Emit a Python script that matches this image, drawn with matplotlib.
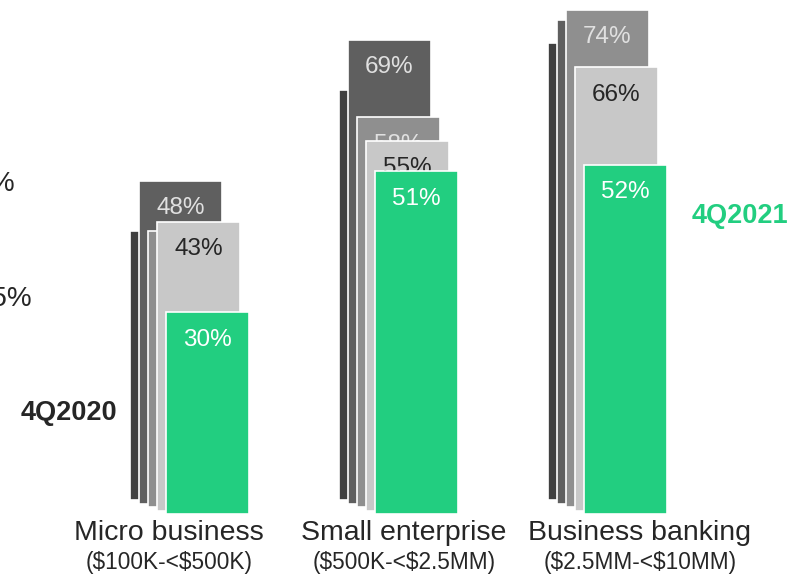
import matplotlib
matplotlib.use("Agg")
import matplotlib.pyplot as plt

# ---- data -------------------------------------------------------------
QUARTERS = ["4Q2020", "1Q2021", "2Q2021", "3Q2021", "4Q2021"]
SEGMENTS = ["Micro business", "Small enterprise", "Business banking"]
RANGES = ["($100K-<$500K)", "($500K-<$2.5MM)", "($2.5MM-<$10MM)"]

# one list per quarter, in SEGMENTS order (percent)
Q4_2020 = [40, 61, 68]
Q1_2021 = [48, 69, 72]
Q2_2021 = [41, 58, 74]
Q3_2021 = [43, 55, 66]
Q4_2021 = [30, 51, 52]
VALUES = [Q4_2020, Q1_2021, Q2_2021, Q3_2021, Q4_2021]

# ---- style ------------------------------------------------------------
plt.rcParams["font.family"] = ["Liberation Sans", "DejaVu Sans"]
BAR_COLORS = ["#404040", "#5f5f5f", "#8f8f8f", "#c8c8c8", "#22ce80"]
TEXT_COLORS = ["#e0e0e0", "#e0e0e0", "#e0e0e0", "#262626", "#ffffff"]
GREEN = "#22ce80"

W, H = 809, 578
PX_GROUP = 209.0          # pixels between groups
PX_PER_PCT = 6.72
BASE_PX = 64              # baseline of front bar, from bottom
DX = 9 / PX_GROUP         # horizontal shift between layers
DY = 3.5 / PX_PER_PCT     # vertical shift between layers
WIDTH = 83 / PX_GROUP

fig = plt.figure(figsize=(W / 100, H / 100), dpi=100)
ax = fig.add_axes([0, 0, 1, 1])
ax.set_xlim(-207.5 / PX_GROUP, (W - 207.5) / PX_GROUP)
ax.set_ylim(-BASE_PX / PX_PER_PCT, (H - BASE_PX) / PX_PER_PCT)
ax.axis("off")

n = len(QUARTERS)
tops = [[(n - 1 - k) * DY + v for v in vals] for k, vals in enumerate(VALUES)]
for k, vals in enumerate(VALUES):
    back = n - 1 - k
    xs = [i - back * DX for i in range(len(SEGMENTS))]
    bottom = back * DY
    ax.bar(xs, vals, width=WIDTH, bottom=bottom, color=BAR_COLORS[k],
           edgecolor="white", linewidth=1.2, zorder=2 * k + 2)
    for i, (x, v) in enumerate(zip(xs, vals)):
        # only label bars that stick out above every bar in front of them
        front = [tops[j][i] for j in range(k + 1, n)]
        if front and max(front) >= tops[k][i]:
            continue
        ax.text(x, bottom + v - 4.1, f"{v}%", ha="center", va="center",
                fontsize=17.5, color=TEXT_COLORS[k], zorder=2 * k + 3)

# category labels (positions in pixels)
label_px = [169, 404, 640]
for px, name, rng in zip(label_px, SEGMENTS, RANGES):
    fig.text(px / W, 1 - 533.5 / H, name, ha="center", va="center",
             fontsize=20.5, color="#262626", parse_math=False)
    fig.text(px / W, 1 - 563 / H, rng, ha="center", va="center",
             fontsize=16.3, color="#262626", parse_math=False)

# series call-outs
fig.text(117 / W, 1 - 413 / H, QUARTERS[0], ha="right", va="center",
         fontsize=19.5, fontweight="bold", color="#262626")
fig.text(692 / W, 1 - 216 / H, QUARTERS[-1], ha="left", va="center",
         fontsize=19.5, fontweight="bold", color=GREEN)

# cropped labels at left edge
fig.text(15 / W, 1 - 184 / H, "12%", ha="right", va="center",
         fontsize=20, color="#262626")
fig.text(32 / W, 1 - 299 / H, "25%", ha="right", va="center",
         fontsize=20, color="#262626")

fig.savefig("out.png", dpi=100)
